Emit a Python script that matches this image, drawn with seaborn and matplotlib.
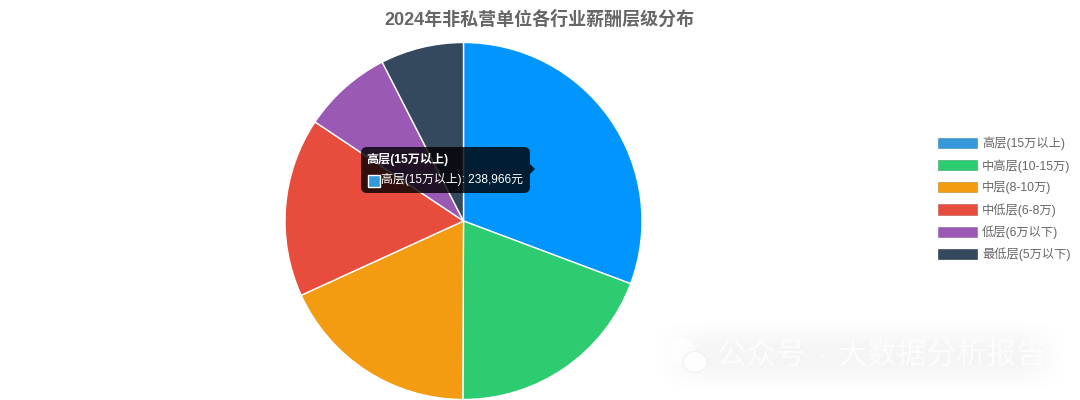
import numpy as np
import pandas as pd
import matplotlib
matplotlib.use("Agg")
import matplotlib.pyplot as plt
from matplotlib.patches import FancyBboxPatch, Patch, Polygon, Rectangle, Ellipse
import seaborn as sns

title = "2024年非私营单位各行业薪酬层级分布"
levels = ["高层(15万以上)", "中高层(10-15万)", "中层(8-10万)", "中低层(6-8万)", "低层(6万以下)", "最低层(5万以下)"]
values = [238966, 150550, 140900, 126000, 63100, 58560]
legend_colors = ["#3498db", "#2ecc71", "#f39c12", "#e74c3c", "#9b59b6", "#34495e"]
hover_color = "#0095ff"

W, H = 1080, 400
GRAY = "#666666"

sns.set_theme(style="white")
plt.rcParams["font.family"] = ["Liberation Sans", "Noto Sans CJK SC", "DejaVu Sans"]

df = pd.DataFrame({"level": levels, "value": values, "color": legend_colors})
slice_colors = [hover_color] + legend_colors[1:]

fig = plt.figure(figsize=(W / 100, H / 100), dpi=100, facecolor="white")

# pie, radius 178 px around (463.5, 221)
cx, cy, r = 463.5, 221, 178.5
ax = fig.add_axes([(cx - r) / W, 1 - (cy + r) / H, 2 * r / W, 2 * r / H])
ax.pie(df["value"], colors=slice_colors, startangle=90, counterclock=False, radius=1,
       wedgeprops={"edgecolor": "white", "linewidth": 1, "clip_on": False})
ax.set_xlim(-1, 1)
ax.set_ylim(-1, 1)
ax.axis("off")

# overlay in pixel coordinates for tooltip and watermark
ov = fig.add_axes([0, 0, 1, 1], zorder=5)
ov.set_xlim(0, W)
ov.set_ylim(H, 0)
ov.axis("off")
ov.patch.set_alpha(0)

# soft grey watermark backdrop
x0, x1, y0, y1 = 640, 1080, 310, 400
xs = np.arange(x0, x1)
ys = np.arange(y0, y1)
edge_x = np.clip((xs - 650) / 55, 0, 1) * np.clip((1068 - xs) / 45, 0, 1)
edge_y = np.clip((ys - 318) / 28, 0, 1) * np.clip((392 - ys) / 28, 0, 1)
mask = np.outer(edge_y, edge_x)
rgba = np.zeros((len(ys), len(xs), 4))
rgba[..., 3] = mask * 0.04
ov.imshow(rgba, extent=(x0, x1, y1, y0), aspect="auto", zorder=1)
ov.set_xlim(0, W)
ov.set_ylim(H, 0)

wm = {"color": "white", "alpha": 0.75, "fontsize": 21.5, "va": "center", "zorder": 2}
ov.text(716, 356, "公众号", **wm)
ov.text(817, 356, "·", **wm)
ov.text(838, 356, "大数据分析报告", **wm)
ov.add_patch(Ellipse((681, 351), 27, 25, color="white", alpha=0.8, zorder=2))
ov.add_patch(Ellipse((695, 362), 24, 21, facecolor="white", edgecolor="#f0f0f0", lw=1, alpha=0.9, zorder=2))

# tooltip
ov.add_patch(FancyBboxPatch((367, 153), 157, 34, boxstyle="round,pad=6,rounding_size=6",
                            facecolor=(0, 0, 0, 0.8), edgecolor="none", zorder=6))
ov.add_patch(Polygon([[530, 164], [535, 169], [530, 174]], closed=True,
                     facecolor=(0, 0, 0, 0.8), edgecolor="none", zorder=6))
ov.text(366.5, 159, levels[0], color="white", fontsize=8.7, fontweight="bold", va="center", zorder=7)
ov.add_patch(Rectangle((367.5, 174.5), 12, 12, facecolor=legend_colors[0], edgecolor="white", lw=1, zorder=7))
ov.text(381, 179, f"{levels[0]}: {values[0]:,}元", color="white", fontsize=8.6, va="center", zorder=7)

fig.text(539.5 / W, 1 - 20 / H, title, ha="center", va="center", color=GRAY, fontsize=12.95, fontweight="bold")

handles = [Patch(facecolor=c, edgecolor=sns.desaturate(c, 0.6), alpha=1, linewidth=0.5) for c in legend_colors]
fig.legend(handles, levels, loc="center left", bbox_to_anchor=(938 / W, 1 - 199 / H), frameon=False,
           fontsize=8.8, labelcolor=GRAY, handlelength=3.15, handleheight=0.9, handletextpad=0.45,
           labelspacing=0.72, borderpad=0, borderaxespad=0)

fig.savefig("out.png", dpi=100)
